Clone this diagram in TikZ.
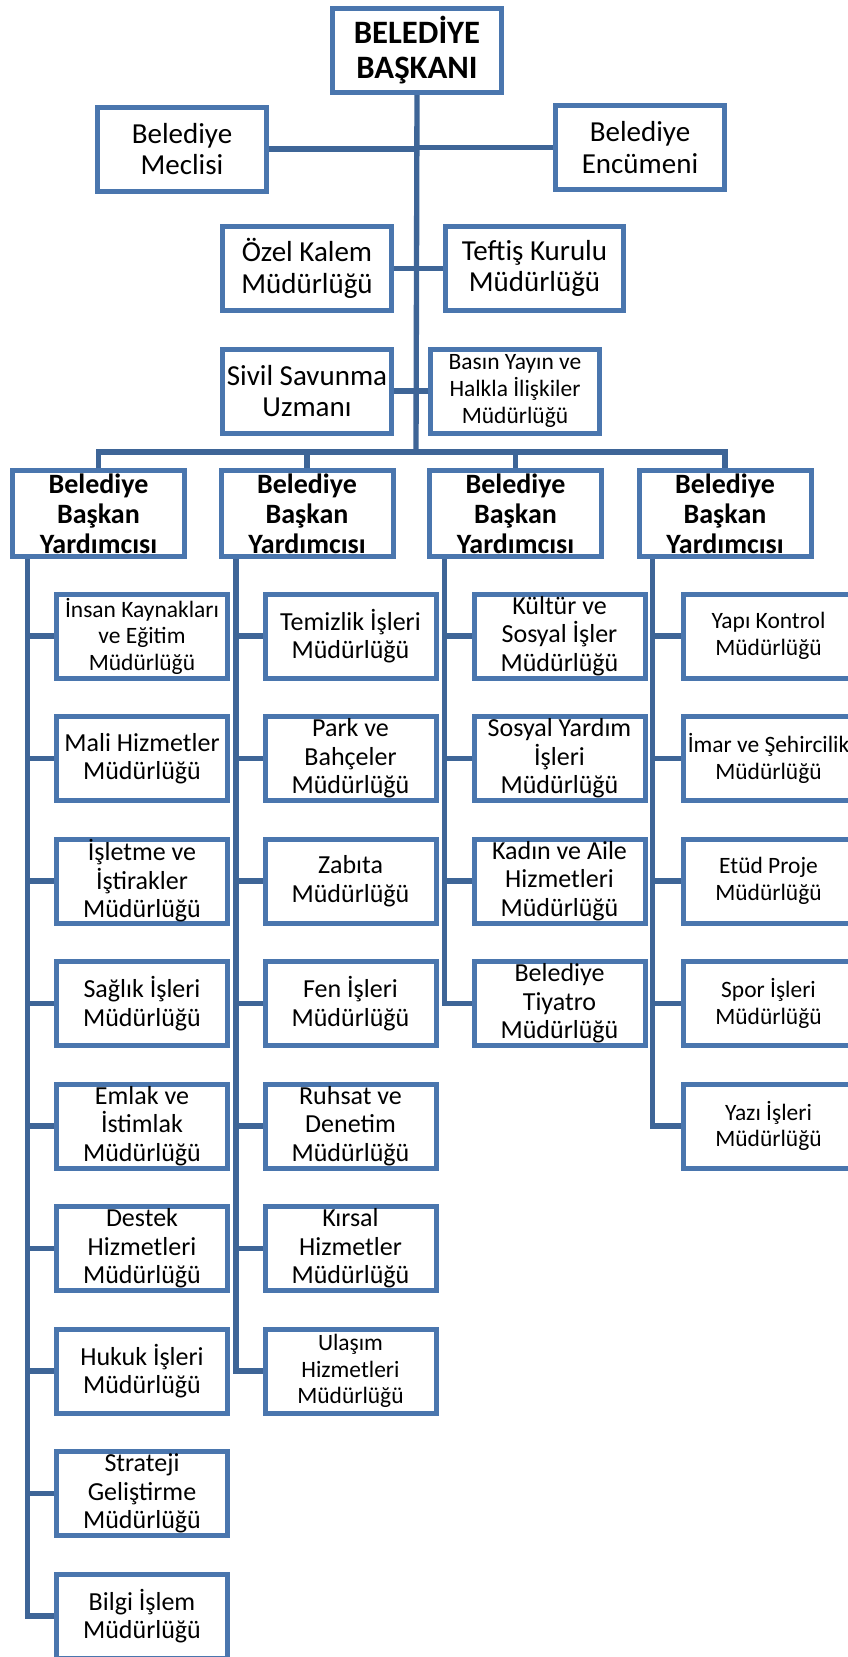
\documentclass[tikz,border=0pt]{standalone}
\usepackage{fontspec}
\setmainfont{Carlito}
\definecolor{kutu}{RGB}{74,118,174}
\definecolor{hat}{RGB}{62,101,151}
\tikzset{
  birim/.style={draw=kutu, line width=3.75pt, fill=white, align=center, inner sep=0pt,
    minimum width=126.75pt, minimum height=63pt},
  bask/.style={birim, font=\bfseries\fontsize{24.5}{26.3}\selectfont},
  ana/.style={birim, font=\fontsize{21.75}{23.6}\selectfont},
  yard/.style={birim, minimum width=129pt, minimum height=64.5pt, font=\bfseries\fontsize{21}{22.5}\selectfont},
  mud/.style={birim, minimum width=128.25pt, font=\fontsize{19.5}{21.3}\selectfont},
  kucuk/.style={font=\fontsize{17.6}{19.9}\selectfont},
  baglanti/.style={draw=hat, line width=4pt}
}
\begin{document}
\begin{tikzpicture}[x=0.75pt,y=-0.75pt]
            \useasboundingbox (0,0) rectangle (847,1657);
                \node[bask] (bb) at (417,50.5) {BELEDİYE\\BAŞKANI};
                \node[ana] (mec) at (182,149) {Belediye\\Meclisi};
                \node[ana] (enc) at (640,147.5) {Belediye\\Encümeni};
                \node[ana] (ozk) at (307,268.5) {Özel Kalem\\Müdürlüğü};
                \node[ana, minimum width=133.5pt] (tef) at (534.5,268.5) {Teftiş Kurulu\\Müdürlüğü};
                \node[ana] (siv) at (307,391) {Sivil Savunma\\Uzmanı};
                \node[ana, kucuk] (bas) at (515,391) {Basın Yayın ve\\Halkla İlişkiler\\Müdürlüğü};
                \coordinate (bus) at (416,452);

                \node[yard] (by1) at (98.5,513.7) {Belediye\\Başkan\\Yardımcısı};
                \node[yard] (by2) at (307,513.7) {Belediye\\Başkan\\Yardımcısı};
                \node[yard] (by3) at (515.5,513.7) {Belediye\\Başkan\\Yardımcısı};
                \node[yard] (by4) at (725,513.7) {Belediye\\Başkan\\Yardımcısı};

                \node[mud, kucuk] (ikem) at (142,636) {İnsan Kaynakları\\ve Eğitim\\Müdürlüğü};
                \node[mud] (mhm) at (142,758.5) {Mali Hizmetler\\Müdürlüğü};
                \node[mud] (iim) at (142,881) {İşletme ve\\İştirakler\\Müdürlüğü};
                \node[mud] (sim) at (142,1003.5) {Sağlık İşleri\\Müdürlüğü};
                \node[mud] (eim) at (142,1126) {Emlak ve\\İstimlak\\Müdürlüğü};
                \node[mud] (dhm) at (142,1248.5) {Destek\\Hizmetleri\\Müdürlüğü};
                \node[mud] (hukm) at (142,1371) {Hukuk İşleri\\Müdürlüğü};
                \node[mud] (sgm) at (142,1493.5) {Strateji\\Geliştirme\\Müdürlüğü};
                \node[mud] (bim) at (142,1616) {Bilgi İşlem\\Müdürlüğü};

                \node[mud] (tim) at (350.5,636) {Temizlik İşleri\\Müdürlüğü};
                \node[mud] (pbm) at (350.5,758.5) {Park ve\\Bahçeler\\Müdürlüğü};
                \node[mud] (zm) at (350.5,881) {Zabıta\\Müdürlüğü};
                \node[mud] (fim) at (350.5,1003.5) {Fen İşleri\\Müdürlüğü};
                \node[mud] (rdm) at (350.5,1126) {Ruhsat ve\\Denetim\\Müdürlüğü};
                \node[mud] (khm) at (350.5,1248.5) {Kırsal\\Hizmetler\\Müdürlüğü};
                \node[mud, kucuk] (uhm) at (350.5,1371) {Ulaşım\\Hizmetleri\\Müdürlüğü};

                \node[mud] (ksm) at (559.5,636) {Kültür ve\\Sosyal İşler\\Müdürlüğü};
                \node[mud] (syim) at (559.5,758.5) {Sosyal Yardım\\İşleri\\Müdürlüğü};
                \node[mud] (kahm) at (559.5,881) {Kadın ve Aile\\Hizmetleri\\Müdürlüğü};
                \node[mud] (btm) at (559.5,1003.5) {Belediye\\Tiyatro\\Müdürlüğü};

                \node[mud, kucuk] (ykm) at (768.5,636) {Yapı Kontrol\\Müdürlüğü};
                \node[mud, kucuk] (ism) at (768.5,758.5) {İmar ve Şehircilik\\Müdürlüğü};
                \node[mud, kucuk] (epm) at (768.5,881) {Etüd Proje\\Müdürlüğü};
                \node[mud, kucuk] (spm) at (768.5,1003.5) {Spor İşleri\\Müdürlüğü};
                \node[mud, kucuk] (yim) at (768.5,1126) {Yazı İşleri\\Müdürlüğü};

                \draw[baglanti] (bb.south) -- (bus);
                \draw[baglanti] (mec.east) -- (mec.east -| bus);
                \draw[baglanti] (enc.west) -- (enc.west -| bus);
                \draw[baglanti] (ozk.east) -- (ozk.east -| bus);
                \draw[baglanti] (tef.west) -- (tef.west -| bus);
                \draw[baglanti] (siv.east) -- (siv.east -| bus);
                \draw[baglanti] (bas.west) -- (bas.west -| bus);
                \draw[baglanti] (by1.north) |- (bus) -| (by4.north);
                \draw[baglanti] (by2.north) -- (by2.north |- bus);
                \draw[baglanti] (by3.north) -- (by3.north |- bus);

                \draw[baglanti] ([xshift=13pt]by1.south west) |- (ikem.west);
                \draw[baglanti] ([xshift=13pt]by1.south west) |- (mhm.west);
                \draw[baglanti] ([xshift=13pt]by1.south west) |- (iim.west);
                \draw[baglanti] ([xshift=13pt]by1.south west) |- (sim.west);
                \draw[baglanti] ([xshift=13pt]by1.south west) |- (eim.west);
                \draw[baglanti] ([xshift=13pt]by1.south west) |- (dhm.west);
                \draw[baglanti] ([xshift=13pt]by1.south west) |- (hukm.west);
                \draw[baglanti] ([xshift=13pt]by1.south west) |- (sgm.west);
                \draw[baglanti] ([xshift=13pt]by1.south west) |- (bim.west);

                \draw[baglanti] ([xshift=13pt]by2.south west) |- (tim.west);
                \draw[baglanti] ([xshift=13pt]by2.south west) |- (pbm.west);
                \draw[baglanti] ([xshift=13pt]by2.south west) |- (zm.west);
                \draw[baglanti] ([xshift=13pt]by2.south west) |- (fim.west);
                \draw[baglanti] ([xshift=13pt]by2.south west) |- (rdm.west);
                \draw[baglanti] ([xshift=13pt]by2.south west) |- (khm.west);
                \draw[baglanti] ([xshift=13pt]by2.south west) |- (uhm.west);

                \draw[baglanti] ([xshift=13pt]by3.south west) |- (ksm.west);
                \draw[baglanti] ([xshift=13pt]by3.south west) |- (syim.west);
                \draw[baglanti] ([xshift=13pt]by3.south west) |- (kahm.west);
                \draw[baglanti] ([xshift=13pt]by3.south west) |- (btm.west);

                \draw[baglanti] ([xshift=12pt]by4.south west) |- (ykm.west);
                \draw[baglanti] ([xshift=12pt]by4.south west) |- (ism.west);
                \draw[baglanti] ([xshift=12pt]by4.south west) |- (epm.west);
                \draw[baglanti] ([xshift=12pt]by4.south west) |- (spm.west);
                \draw[baglanti] ([xshift=12pt]by4.south west) |- (yim.west);
            \end{tikzpicture}
\end{document}
